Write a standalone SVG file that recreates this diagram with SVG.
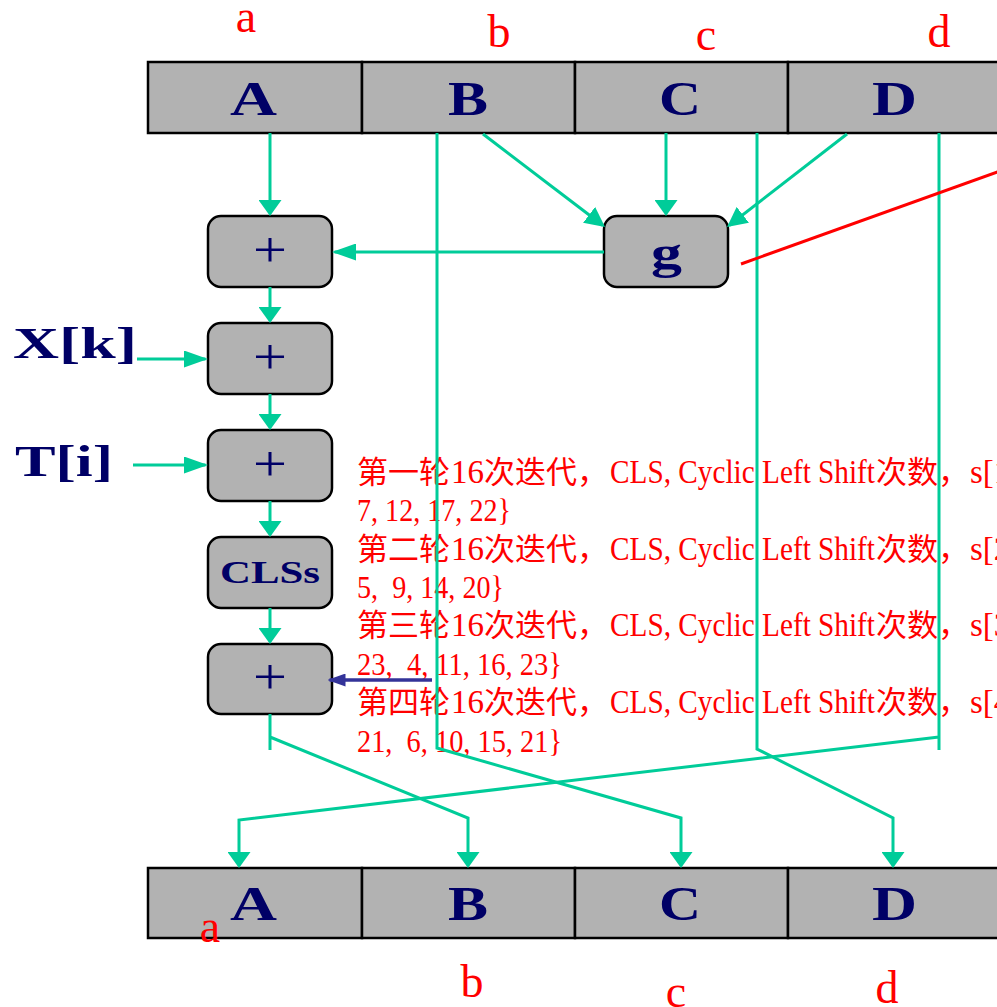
<svg xmlns="http://www.w3.org/2000/svg" width="997" height="1007" viewBox="0 0 997 1007">
  <style>
    .cell { fill: #b2b2b2; stroke: #000; stroke-width: 2.5; }
    .box { fill: #b2b2b2; stroke: #000; stroke-width: 2.5; }
    .reg { font-family: "Liberation Serif", serif; font-weight: bold; font-size: 48px; fill: #000066; }
    .op { font-family: "Liberation Serif", serif; font-size: 50px; fill: #000066; }
    .lbl { font-family: "Liberation Serif", serif; font-weight: bold; font-size: 45px; fill: #000066; }
    .var { font-family: "Liberation Serif", serif; font-size: 46px; fill: #ff0000; text-anchor: middle; }
    .note { font-family: "Liberation Serif", "Noto Sans CJK SC", serif; font-size: 31px; fill: #ff0000; }
    .lat { font-size: 33px; }
    .num { font-size: 32px; }
    .wire { fill: none; stroke: #00cc99; stroke-width: 3; }
  </style>
  <defs>
    <marker id="mv" markerUnits="userSpaceOnUse" markerWidth="16" markerHeight="23" refX="13.5" refY="11.5" orient="auto">
      <path d="M0,0 L16,11.5 L0,23 z" fill="#00cc99"/>
    </marker>
    <marker id="mh" markerUnits="userSpaceOnUse" markerWidth="24" markerHeight="17" refX="21.5" refY="8.5" orient="auto">
      <path d="M0,0 L24,8.5 L0,17 z" fill="#00cc99"/>
    </marker>
    <marker id="md" markerUnits="userSpaceOnUse" markerWidth="20" markerHeight="20" refX="17.5" refY="10" orient="auto">
      <path d="M0,0 L20,10 L0,20 z" fill="#00cc99"/>
    </marker>
    <marker id="mb" markerUnits="userSpaceOnUse" markerWidth="18" markerHeight="13" refX="16" refY="6.5" orient="auto">
      <path d="M0,0 L18,6.5 L0,13 z" fill="#333399"/>
    </marker>
  </defs>

  <rect width="997" height="1007" fill="#fff"/>

  <!-- input register -->
  <g id="reg-in">
    <rect class="cell" x="148" y="62" width="214" height="71"/>
    <rect class="cell" x="362" y="62" width="213" height="71"/>
    <rect class="cell" x="575" y="62" width="213" height="71"/>
    <rect class="cell" x="788" y="62" width="220" height="71"/>
    <text class="reg" x="230" y="115" textLength="47" lengthAdjust="spacingAndGlyphs">A</text>
    <text class="reg" x="448" y="115" textLength="40" lengthAdjust="spacingAndGlyphs">B</text>
    <text class="reg" x="659" y="115" textLength="42" lengthAdjust="spacingAndGlyphs">C</text>
    <text class="reg" x="872" y="115" textLength="45" lengthAdjust="spacingAndGlyphs">D</text>
  </g>

  <!-- output register -->
  <g id="reg-out">
    <rect class="cell" x="148" y="868" width="214" height="70"/>
    <rect class="cell" x="362" y="868" width="213" height="70"/>
    <rect class="cell" x="575" y="868" width="213" height="70"/>
    <rect class="cell" x="788" y="868" width="220" height="70"/>
    <text class="reg" x="230" y="920" textLength="47" lengthAdjust="spacingAndGlyphs">A</text>
    <text class="reg" x="448" y="920" textLength="40" lengthAdjust="spacingAndGlyphs">B</text>
    <text class="reg" x="659" y="920" textLength="42" lengthAdjust="spacingAndGlyphs">C</text>
    <text class="reg" x="872" y="920" textLength="45" lengthAdjust="spacingAndGlyphs">D</text>
  </g>

  <!-- operation boxes -->
  <g id="add1">
    <rect class="box" x="208" y="216" width="124" height="71" rx="13"/>
    <text class="op" x="253" y="267" textLength="34" lengthAdjust="spacingAndGlyphs">+</text>
  </g>
  <g id="add2">
    <rect class="box" x="208" y="323" width="124" height="71" rx="13"/>
    <text class="op" x="253" y="374" textLength="34" lengthAdjust="spacingAndGlyphs">+</text>
  </g>
  <g id="add3">
    <rect class="box" x="208" y="430" width="124" height="71" rx="13"/>
    <text class="op" x="253" y="481" textLength="34" lengthAdjust="spacingAndGlyphs">+</text>
  </g>
  <g id="cls">
    <rect class="box" x="208" y="537" width="124" height="71" rx="13"/>
    <text class="reg" x="220" y="583" style="font-size:32px" textLength="100" lengthAdjust="spacingAndGlyphs">CLSs</text>
  </g>
  <g id="add4">
    <rect class="box" x="208" y="644" width="124" height="70" rx="13"/>
    <text class="op" x="253" y="694" textLength="34" lengthAdjust="spacingAndGlyphs">+</text>
  </g>
  <g id="func-g">
    <rect class="box" x="604" y="216" width="124" height="71" rx="13"/>
    <text class="reg" x="651" y="268" style="font-size:46px" textLength="31" lengthAdjust="spacingAndGlyphs">g</text>
  </g>

  <!-- side inputs -->
  <g id="in-x">
    <text class="lbl" x="13" y="358" textLength="124" lengthAdjust="spacingAndGlyphs">X[k]</text>
  </g>
  <g id="in-t">
    <text class="lbl" x="15" y="476" textLength="98" lengthAdjust="spacingAndGlyphs">T[i]</text>
  </g>

  <!-- word labels -->
  <g id="vars">
    <text class="var" x="246" y="32">a</text>
    <text class="var" x="499" y="47">b</text>
    <text class="var" x="706" y="50">c</text>
    <text class="var" x="939" y="47">d</text>
    <text class="var" x="210" y="942">a</text>
    <text class="var" x="472" y="997">b</text>
    <text class="var" x="676" y="1007">c</text>
    <text class="var" x="887" y="1003">d</text>
  </g>

  <!-- shift schedule notes -->
  <g id="notes" class="note">
    <text y="483"><tspan x="357">第一轮</tspan><tspan class="lat" x="451" textLength="33" lengthAdjust="spacingAndGlyphs">16</tspan><tspan x="484">次迭代，</tspan><tspan class="lat" x="610" textLength="265" lengthAdjust="spacingAndGlyphs">CLS, Cyclic Left Shift</tspan><tspan x="876">次数，</tspan><tspan class="lat" x="970">s[1</tspan></text>
    <text class="num" x="357" y="521" textLength="154" lengthAdjust="spacingAndGlyphs">7, 12, 17, 22}</text>
    <text y="560"><tspan x="357">第二轮</tspan><tspan class="lat" x="451" textLength="33" lengthAdjust="spacingAndGlyphs">16</tspan><tspan x="484">次迭代，</tspan><tspan class="lat" x="610" textLength="265" lengthAdjust="spacingAndGlyphs">CLS, Cyclic Left Shift</tspan><tspan x="876">次数，</tspan><tspan class="lat" x="970">s[2</tspan></text>
    <text class="num" x="357" y="598" textLength="147" lengthAdjust="spacingAndGlyphs">5,&#160; 9, 14, 20}</text>
    <text y="636"><tspan x="357">第三轮</tspan><tspan class="lat" x="451" textLength="33" lengthAdjust="spacingAndGlyphs">16</tspan><tspan x="484">次迭代，</tspan><tspan class="lat" x="610" textLength="265" lengthAdjust="spacingAndGlyphs">CLS, Cyclic Left Shift</tspan><tspan x="876">次数，</tspan><tspan class="lat" x="970">s[3</tspan></text>
    <text class="num" x="357" y="675" textLength="205" lengthAdjust="spacingAndGlyphs">23,&#160; 4, 11, 16, 23}</text>
    <text y="713"><tspan x="357">第四轮</tspan><tspan class="lat" x="451" textLength="33" lengthAdjust="spacingAndGlyphs">16</tspan><tspan x="484">次迭代，</tspan><tspan class="lat" x="610" textLength="265" lengthAdjust="spacingAndGlyphs">CLS, Cyclic Left Shift</tspan><tspan x="876">次数，</tspan><tspan class="lat" x="970">s[4</tspan></text>
    <text class="num" x="357" y="752" textLength="205" lengthAdjust="spacingAndGlyphs">21,&#160; 6, 10, 15, 21}</text>
  </g>

  <!-- data paths -->
  <g id="connectors">
    <path class="wire" d="M270,133 V213.5" marker-end="url(#mv)"/>
    <path class="wire" d="M483,134 L603,225.5" marker-end="url(#md)"/>
    <path class="wire" d="M666,133 V213.5" marker-end="url(#mv)"/>
    <path class="wire" d="M847,134 L729,225.5" marker-end="url(#md)"/>
    <path class="wire" d="M604,252 H334.5" marker-end="url(#mh)"/>
    <path class="wire" d="M270,287 V320.5" marker-end="url(#mv)"/>
    <path class="wire" d="M137,359 H205.5" marker-end="url(#mh)"/>
    <path class="wire" d="M270,394 V427.5" marker-end="url(#mv)"/>
    <path class="wire" d="M133,465 H205.5" marker-end="url(#mh)"/>
    <path class="wire" d="M270,501 V534.5" marker-end="url(#mv)"/>
    <path class="wire" d="M270,608 V641.5" marker-end="url(#mv)"/>
    <path class="wire" d="M270,714 V750 M270,737 L468,818 V865.5" marker-end="url(#mv)"/>
    <path class="wire" d="M437,133 V748 L681,818 V865.5" marker-end="url(#mv)"/>
    <path class="wire" d="M757,133 V749 L893,818 V865.5" marker-end="url(#mv)"/>
    <path class="wire" d="M939,133 V750 M939,737 L239,820 V865.5" marker-end="url(#mv)"/>
    <path d="M432,680 H329.5" fill="none" stroke="#333399" stroke-width="3.5" marker-end="url(#mb)"/>
  </g>

  <!-- pointer to g -->
  <line x1="741" y1="264" x2="1000" y2="171" stroke="#ff0000" stroke-width="3"/>
</svg>
